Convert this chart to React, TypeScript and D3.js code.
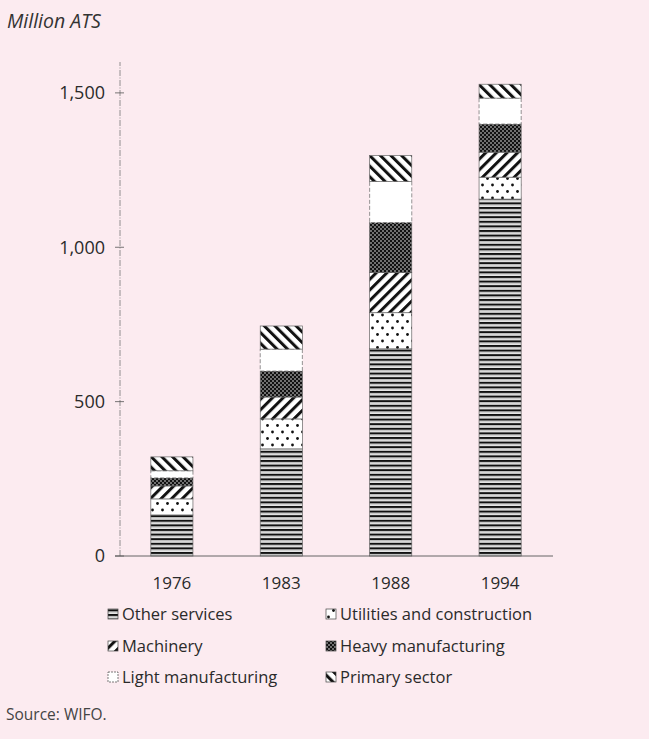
import React from 'react'
import * as d3 from 'd3'

// values (million ATS)
const years = ['1976', '1983', '1988', '1994']
const otherServices = [133, 347, 671, 1156]
const utilities = [52, 97, 117, 71]
const machinery = [42, 71, 130, 81]
const heavyManufacturing = [26, 84, 162, 91]
const lightManufacturing = [23, 71, 133, 84]
const primarySector = [45, 75, 84, 45]
const yTicks = [0, 500, 1000, 1500]

const seriesKeys = ['other', 'util', 'mach', 'heavy', 'light', 'primary']
const seriesNames = ['Other services', 'Utilities and construction', 'Machinery', 'Heavy manufacturing', 'Light manufacturing', 'Primary sector']

const W = 649, H = 739
const FONT = '"Open Sans", Lato, sans-serif'
const BG = '#fcebf0'
const INK = '#2a2a2a'

export default function App() {
  // build a table for d3.stack
  const table = years.map((yr, i) => ({
    year: yr,
    other: otherServices[i],
    util: utilities[i],
    mach: machinery[i],
    heavy: heavyManufacturing[i],
    light: lightManufacturing[i],
    primary: primarySector[i],
  }))
  const stacked = d3.stack<any>().keys(seriesKeys)(table)

  const y = d3.scaleLinear().domain([0, 1600]).range([556, 62])
  const x = d3.scaleBand().domain(years).range([118, 554]).paddingInner(0.615).paddingOuter(0.3)

  const fmt = d3.format(',')

  // legend layout: 2 columns, 3 rows
  const legendCols = [108, 326]
  const legendRows = [614, 646, 677]

  return (
    <svg width={W} height={H} style={{ position: 'absolute', left: 0, top: 0, background: BG }}>
      <defs>
        <pattern id="p-other" patternUnits="userSpaceOnUse" width="6" height="4.6">
          <rect width="6" height="4.6" fill="#fff" />
          <rect y="0" width="6" height="2.1" fill="#111" />
          <rect y="3.3" width="6" height="0.6" fill="#999" />
        </pattern>
        <pattern id="p-util" patternUnits="userSpaceOnUse" width="10" height="13">
          <rect width="10" height="13" fill="#fff" />
          <circle cx="2.5" cy="3" r="1.4" fill="#111" />
          <circle cx="7.5" cy="9.5" r="1.4" fill="#111" />
        </pattern>
        <pattern id="p-mach" patternUnits="userSpaceOnUse" width="7.5" height="7.5" patternTransform="rotate(45)">
          <rect width="7.5" height="7.5" fill="#fff" />
          <rect width="3" height="7.5" fill="#111" />
        </pattern>
        <pattern id="p-heavy" patternUnits="userSpaceOnUse" width="4" height="4">
          <rect width="4" height="4" fill="#111" />
          <circle cx="1" cy="1" r="0.75" fill="#fff" />
          <circle cx="3" cy="3" r="0.75" fill="#fff" />
        </pattern>
        <pattern id="p-light" patternUnits="userSpaceOnUse" width="4" height="4">
          <rect width="4" height="4" fill="#fff" />
        </pattern>
        <pattern id="p-primary" patternUnits="userSpaceOnUse" width="7.5" height="7.5" patternTransform="rotate(-45)">
          <rect width="7.5" height="7.5" fill="#fff" />
          <rect width="3" height="7.5" fill="#111" />
        </pattern>
      </defs>

      <text x={7} y={28} fontFamily={FONT} fontStyle="italic" fontSize={19.5} fill="#333">Million ATS</text>

      {/* y axis */}
      <line x1={120} x2={120} y1={y(0)} y2={y(1600)} stroke="#777" strokeWidth={0.8} strokeDasharray="6 1.5 1 1.5" />
      {yTicks.map(t => (
        <g key={t}>
          <line x1={115} x2={124} y1={y(t)} y2={y(t)} stroke="#555" strokeWidth={0.8} />
          <text x={105} y={y(t)} dy="0.36em" textAnchor="end" fontFamily={FONT} fontSize={18} fill={INK}>{fmt(t)}</text>
        </g>
      ))}

      {/* bars */}
      {stacked.map(s => (
        <g key={s.key}>
          {s.map((d, i) => (
            <rect key={i}
              x={x(years[i])!}
              y={y(d[1])}
              width={x.bandwidth()}
              height={y(d[0]) - y(d[1])}
              fill={`url(#p-${s.key})`}
              stroke="#666"
              strokeWidth={0.7}
              strokeDasharray={s.key === 'light' ? '4 2' : undefined}
            />
          ))}
        </g>
      ))}

      {/* x axis */}
      <line x1={115} x2={553} y1={y(0)} y2={y(0)} stroke="#555" strokeWidth={0.9} />
      {years.map(yr => (
        <text key={yr} x={x(yr)! + x.bandwidth() / 2} y={589} textAnchor="middle" fontFamily={FONT} fontSize={17} fill={INK}>{yr}</text>
      ))}

      {/* legend */}
      {[0, 2, 4].map((idx, r) => [0, 1].map(c => {
        const k = idx + c
        return (
          <g key={k} transform={`translate(${legendCols[c]},${legendRows[r]})`}>
            <rect x={0} y={-5} width={10} height={10} fill={`url(#p-${seriesKeys[k]})`} stroke="#444" strokeWidth={0.7}
              strokeDasharray={seriesKeys[k] === 'light' ? '2 1' : undefined} />
            <text x={14} y={0} dy="0.36em" fontFamily={FONT} fontSize={16.5} fill={INK}>{seriesNames[k]}</text>
          </g>
        )
      }))}

      <text x={6} y={720} fontFamily={FONT} fontSize={15.5} fill="#444">Source: WIFO.</text>
    </svg>
  )
}
